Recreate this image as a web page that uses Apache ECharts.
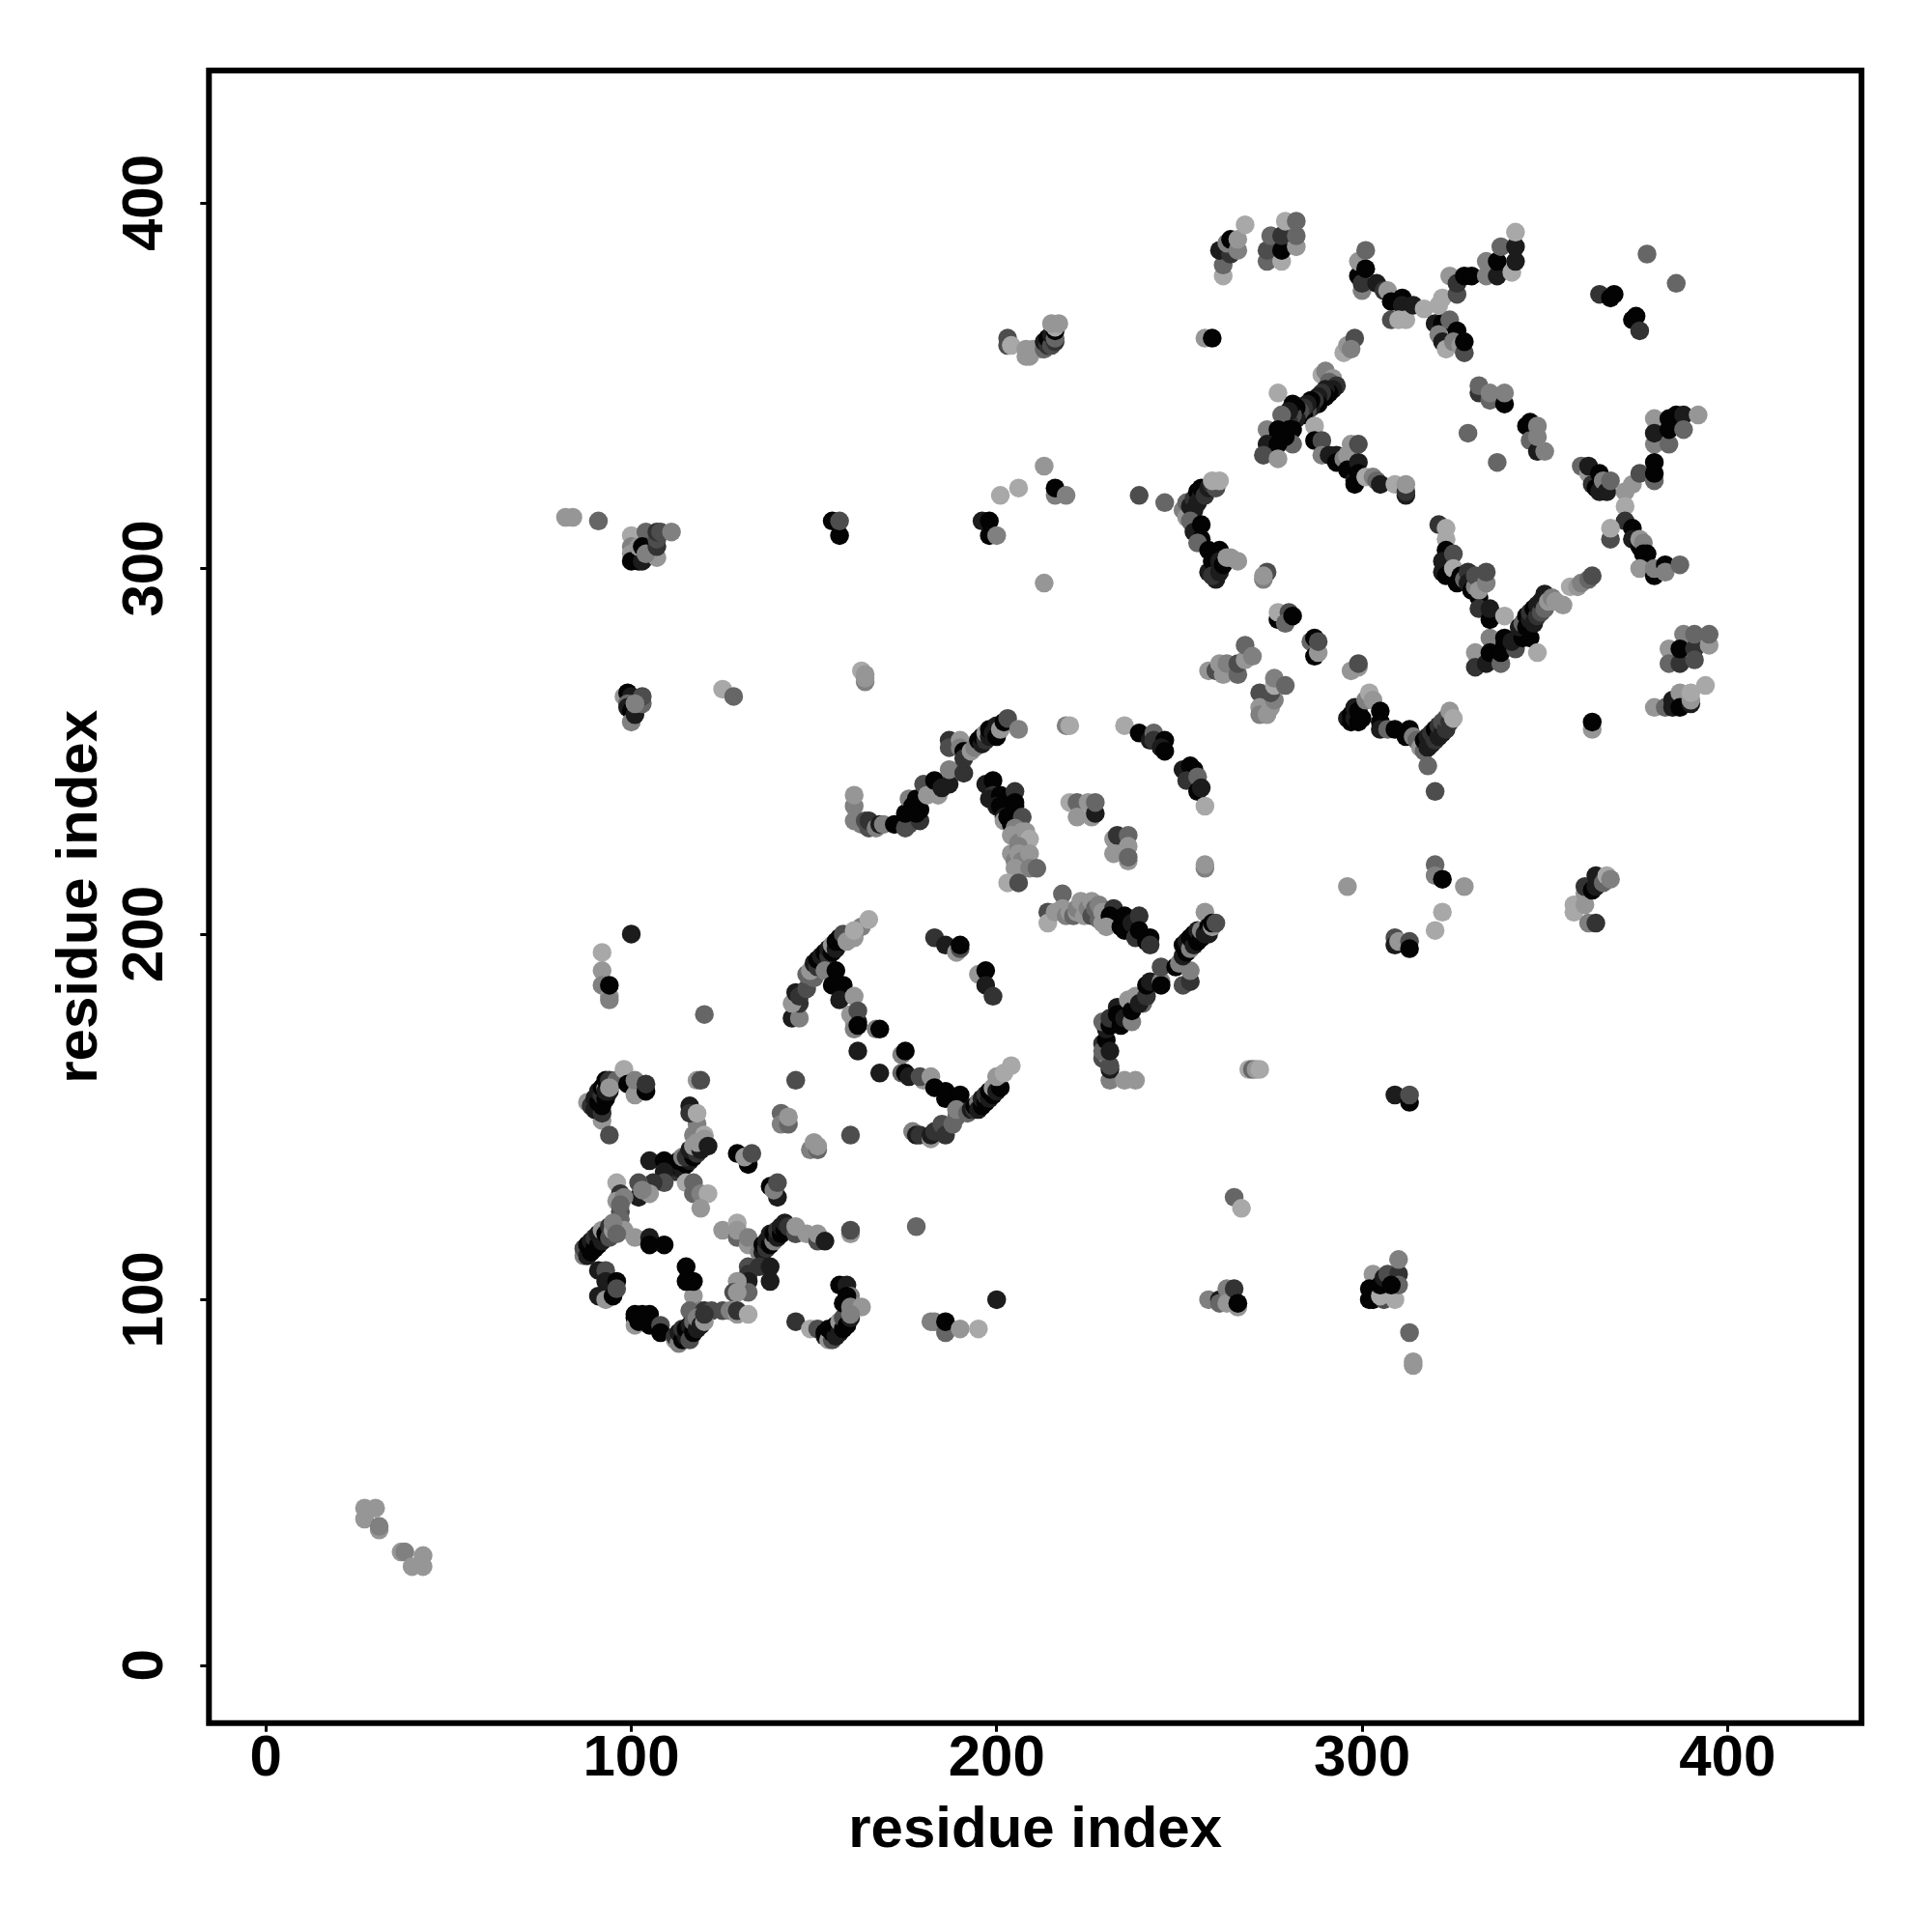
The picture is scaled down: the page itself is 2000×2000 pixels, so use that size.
<!DOCTYPE html>
<html>
<head>
<meta charset="utf-8">
<script src="https://cdn.jsdelivr.net/npm/echarts@6/dist/echarts.min.js"></script>
<style>html,body{margin:0;padding:0;background:#fff}#chart{width:2000px;height:2000px}</style>
</head>
<body>
<div id="chart"></div>
<script>
// Contact lists: [residue i, residue j, strength class 0 (strongest) .. 7 (weakest)]
const farCorner = [[27,43,6],[30,43,6],[27,40,6],[31,37,6],[31,38,5],[37,31,6],[38,31,5],[40,27,6],[43,27,6],[43,30,6]];
const leftUpper = [[92,195,7],[92,190,6],[92,186,5],[94,183,6],[94,182,5],[94,186,0],[100,200,1],[120,178,4],
[88,154,6],[92,149,6],[89,153,2],[90,152,1],[92,151,2],[90,155,1],[91,154,0],[92,153,0],[91,157,1],[92,156,2],[93,155,0],[92,158,0],[93,158,6],[93,157,1],[94,157,1],[93,160,0],[94,160,2],[96,160,4],[94,158,6],[98,163,7],[99,159,0],[101,156,6],[101,160,5],[104,157,0],[104,159,2],[94,145,3],
[118,160,6],[119,160,3],[145,160,3],[141,151,4],[141,148,5],[143,148,4],[143,150,6],[149,141,5],[150,143,6],[151,141,4],[151,142,6],[160,145,3],[178,120,4]];
const sheetLeftA = [[118,148,5],[117,145,5],[116,153,1],[116,151,2],[118,151,7],[120,145,7],[111,136,4],[112,135,2],[113,136,1],[112,137,0],[114,136,1],[113,138,0],[115,137,0],[114,139,5],[116,138,1],[115,139,2],[117,139,0],[116,141,1],[118,140,2],[117,142,6],[119,141,1],[118,143,6],[120,144,6],[121,142,1],
[105,138,1],[109,138,0],[109,135,1],[109,132,3],[106,132,2],[102,132,3],[102,128,1],[105,129,6],[103,130,5],[96,132,7],[97,129,2],[96,127,6],[98,128,5],[97,124,3],[97,122,4],[97,126,4],
[115,132,7],[117,132,4],[117,129,4],[119,129,5],[121,129,7],[119,125,6],[129,140,0],[132,137,0],[131,139,6],[133,140,3],[138,131,0],[140,128,1],[139,130,5],[140,132,3]];
const sheetLeftB = [[125,119,6],[129,121,7],[129,117,4],[129,119,6],[132,115,6],[132,117,5],[135,113,5],[136,113,1],[136,115,0],[137,114,2],[137,116,1],[138,115,0],[138,118,1],[139,116,5],[139,118,0],[140,117,1],[140,119,2],[141,118,0],[141,120,1],[142,119,0],[142,121,1],[143,120,2],[145,118,3],[145,120,6],[148,118,6],[151,116,3],[151,118,6],[153,116,1],[160,118,6],[160,119,3],
[132,109,3],[135,109,2],[138,109,1],[132,107,2],[132,105,1],[138,105,1],[132,102,4],[129,105,6],[128,102,3],[129,102,6],[117,101,6],[119,97,5],[116,97,4],[120,97,2],[122,97,3],[125,97,3],[127,97,5],[129,96,6],[129,97,2],[132,96,7],[115,109,0],[115,105,0],[117,105,0],[101,117,6],[98,119,6],[105,117,1],[105,115,0],[109,115,0]];
const sheetLeftC = [[87,112,5],[87,114,3],[88,112,1],[88,115,0],[89,113,0],[89,116,1],[90,114,0],[90,117,2],[91,115,0],[91,118,1],[92,116,1],[92,119,6],[93,118,0],[94,120,2],[94,117,3],[95,119,6],[95,121,5],[96,118,4],[91,108,1],[93,108,3],[93,105,1],[96,105,0],[93,101,1],[91,101,1],[93,100,6],[95,101,0],[96,103,3],[101,95,0],[101,93,6],[102,94,0],[101,96,0],[103,96,0],[105,96,0],[105,93,0],[108,93,3],[108,91,0],
[112,89,6],[112,90,2],[113,88,5],[113,91,1],[114,89,0],[114,92,2],[115,90,1],[115,92,0],[116,89,3],[116,93,1],[117,91,0],[117,94,4],[118,92,1],[118,95,5],[119,93,1],[120,94,6],[120,96,2],
[145,94,2],[149,92,7],[151,92,3],[153,90,1],[153,91,0],[154,89,6],[154,92,0],[155,89,3],[155,91,0],[156,90,1],[156,93,0],[157,91,1],[157,94,6],[158,92,0],[158,95,3],[159,93,0],[160,95,1],[157,104,0],[159,104,1],[158,99,0],[160,101,5],[159,101,0],[160,98,5],[163,98,6],[160,96,5],[182,94,5],[183,94,5],[186,91,4],[186,94,0],[190,92,6],[195,92,7],[200,100,1]];
const arcMiddle = [[144,177,1],[146,177,5],[146,181,2],[144,181,6],[145,184,1],[146,183,2],[148,185,3],[148,189,4],[150,188,4],[149,190,6],[150,192,1],[151,191,2],[151,193,0],[152,194,1],[153,193,1],[153,195,0],[154,194,2],[154,196,1],[155,195,0],[155,197,6],[156,196,1],[156,198,0],[157,199,0],[158,198,0],[158,200,3],[159,198,6],[161,199,6],[163,202,5],[161,201,7],[165,204,7],
[153,190,5],[156,190,0],[155,186,0],[158,186,0],[157,182,1],[161,183,6],[160,178,6],[162,176,1],[161,176,6],[162,179,3],[161,174,5],[162,175,0],[167,174,5],[168,174,0],[162,168,1],[168,162,1],[174,167,5],[175,168,0],[174,162,4],[175,162,0],[176,161,1],[180,160,6],[179,161,3],[182,161,6],[183,158,0],[186,157,0],[186,155,0],[190,156,0],
[177,146,5],[178,145,1],[179,145,2],[182,144,6],[182,145,1],[183,146,2],[185,148,3],[186,145,2],[188,148,4],[189,150,4],[189,152,5],[192,151,4],[193,152,1],[194,152,2],[194,153,0],[195,154,5],[195,152,1],[196,153,0],[196,155,1],[197,154,0],[197,156,2],[198,155,1],[198,157,0],[199,156,0],[199,158,6],[200,157,1],[201,158,0],[200,161,6],[202,162,7],[204,164,7],
[195,189,6],[197,190,0],[197,186,1],[199,183,2],[183,199,2],[186,197,1],[189,195,6],[190,196,3],[190,197,0]];
const upperLeft = [[82,314,6],[84,314,6],[91,313,4],[100,309,7],[100,306,5],[100,304,6],[100,302,0],[102,302,0],[103,302,1],[107,303,6],[102,306,6],[104,310,4],[103,306,0],[104,304,5],[107,306,2],[107,308,3],[107,310,2],[108,310,3],[111,310,5],[155,313,0],[157,309,0],[157,313,3],[196,313,1],[198,313,0],[198,309,0],[200,309,5],[201,320,7],[206,322,7],[213,328,6],[213,296,6],[216,320,5],[216,322,0],[219,320,5],[239,320,3],[246,318,4],
[98,265,6],[99,266,0],[100,265,1],[99,263,4],[99,262,1],[100,261,0],[100,258,5],[101,260,1],[103,263,4],[103,265,3],[101,263,5],[125,267,7],[128,265,4],[163,272,7],[164,269,5],[164,270,6],[164,271,6],
[203,363,3],[203,361,3],[204,361,7],[208,358,6],[208,360,6],[209,358,6],[210,360,6],[212,360,6],[213,360,4],[213,362,1],[214,361,2],[214,363,0],[215,361,3],[215,364,1],[216,362,2],[216,363,4],[216,365,0],[216,366,7],[215,367,6],[217,367,6],[257,363,6],[259,363,0]];
const helixStart = [[251,316,5],[252,318,4],[252,314,6],[253,317,1],[254,319,2],[254,316,1],[255,321,0],[256,320,1],[255,318,1],[256,322,0],[257,320,2],[258,322,1],[259,323,2],[260,322,3],[259,324,7],[261,324,7],[253,313,4],[254,311,4],[254,310,1],[256,312,0],[256,308,0],[255,307,4],[258,305,0],[261,305,0],[258,299,1],[259,302,0],[260,300,0],[260,297,1],[259,298,2],[261,299,1],[261,302,1],[262,301,0],[263,303,6],[264,303,6],[266,302,6]];
const centreRise = [[161,231,5],[161,235,5],[161,238,6],[163,230,5],[164,231,3],[165,229,3],[165,231,2],[167,229,5],[168,230,1],[169,230,5],[172,230,0],[176,230,3],[175,229,3],[179,231,2],[175,233,0],[176,237,5],[177,235,0],[179,234,0],[178,237,0],[178,233,0],[180,241,3],[181,238,6],[184,238,6],[183,242,0],[185,240,1],[187,241,1],[187,245,5],[191,244,2],[187,253,2],[187,251,3],[190,253,6],[190,251,5],[191,250,0],[191,248,2],[193,250,6],[194,251,5],[195,253,0],[196,252,1],[196,254,0],[197,253,2],[197,255,6],[198,254,1],[198,256,0],[199,255,1],[200,257,1],[200,254,0],[201,256,6],[202,258,0],[203,259,3],[206,256,5],
[219,257,5],[220,257,7],[235,257,7],[239,255,0],[242,253,1],[243,255,4],[243,253,2],[246,253,0],[245,251,1],[246,250,0],[251,245,1],[253,246,0],[254,245,0],[252,242,2],[255,243,4],[255,239,0],[256,240,1],[257,235,7]];
const centreFall = [[197,241,1],[199,242,0],[199,238,2],[198,237,1],[201,238,0],[200,235,1],[201,235,0],[202,232,1],[205,239,2],[205,236,0],[205,235,0],[202,231,6],[203,232,0],[204,230,0],[207,232,3],[205,229,5],[204,227,6],[207,228,6],[206,225,5],[208,228,6],[209,226,7],[204,222,6],[206,224,5],[205,220,5],[206,222,6],[207,220,5],[209,222,6],[205,218,6],[209,218,5],[211,218,4],[203,214,7],[206,214,3],
[220,236,7],[222,236,4],[225,236,6],[222,232,6],[226,232,6],[227,233,1],[227,236,4],[232,226,6],[233,227,2],[236,227,4],[236,224,6],[232,222,6],[236,220,6],[236,221,4],[257,218,5],[257,219,6]];
const centreLower = [[214,206,3],[214,203,7],[218,211,4],[216,206,6],[218,207,6],[219,205,5],[220,206,6],[221,205,4],[222,206,6],[222,207,5],[223,209,6],[224,205,6],[225,207,5],[226,209,6],[226,205,3],[227,207,4],[228,208,5],[228,204,4],[229,206,6],[229,203,6],[232,207,2],[231,205,0],[231,203,0],[230,202,6],[234,202,0],[235,205,0],[235,201,0],[237,203,1],[239,205,2],[238,199,2],[239,201,0],[241,198,0],[242,199,0],[242,197,2],
[229,166,3],[230,167,5],[231,160,5],[231,163,1],[231,164,3],[235,160,6],[238,160,6],[229,170,2],[229,168,4],[230,171,0],[231,168,1],[230,174,1],[229,176,4],[231,175,0],[231,177,2],[233,180,1],[234,175,0],[233,178,0],[235,177,1],[236,182,6],[237,176,5],[237,179,0],[238,183,6],[240,181,4],[239,181,1],[241,183,2],[241,186,0],[242,187,1],[245,187,5],[245,186,0],[245,191,3],[249,191,0],[251,186,3],[253,187,2],[253,190,5],[250,192,5],[251,194,1],[251,197,0],[252,195,0],[252,198,1],[253,196,5],[253,199,0],[254,197,1],[254,200,0],[255,198,0],[255,201,1],[256,199,0],[256,201,5],[257,200,1],[257,206,6],[258,202,0],[258,200,1],[259,202,6],[259,203,0],[260,203,3]];
const lowerRight = [[269,163,7],[270,163,4],[271,163,6],[272,163,7],[309,156,1],[313,154,0],[313,156,3],[265,128,4],[267,125,7],[258,100,5],[261,100,1],[261,99,4],[263,103,5],[263,99,6],[266,99,6],[265,103,2],[266,98,6],[266,99,0],[303,107,6],[302,103,0],[302,100,0],[303,100,0],[306,100,3],[305,101,7],[309,100,7],[305,104,0],[306,106,1],[307,107,3],[310,107,2],[310,104,4],[310,111,5],[308,104,0],[313,91,4],[314,82,6],[314,83,6],
[296,213,6],[320,219,4],[320,216,5],[322,215,0],[328,213,6],[322,206,7],[320,201,7],[309,199,3],[309,197,1],[310,198,6],[313,198,3],[313,196,0],[358,208,7],[358,206,7],[361,208,6],[361,211,6],[361,213,2],[363,212,0],[364,213,1],[364,216,1],[366,214,4],[367,216,7],[368,215,5],[362,203,5],[364,203,2]];
const rightMiddle = [[274,299,3],[273,297,5],[273,298,6],[277,286,0],[277,288,7],[280,288,3],[279,285,4],[281,287,0],[286,280,4],[287,281,0],[287,276,0],[288,277,6],[288,280,3],[297,272,6],[299,273,6],[299,274,3],
[258,272,6],[260,272,3],[261,274,6],[262,271,6],[263,274,5],[266,271,4],[266,274,3],[268,275,6],[268,279,4],[270,276,5],[272,266,3],[272,262,6],[272,260,5],[274,260,6],[275,262,6],[276,264,5],[275,266,3],[276,268,7],[276,270,5],[279,268,4],
[296,259,1],[297,258,0],[297,260,0],[298,259,1],[298,262,1],[299,258,0],[299,261,0],[300,259,0],[301,264,5],[302,266,7],[303,264,6],[305,261,0],[305,258,0],[305,256,1],[307,256,4],[309,256,0],[313,256,0],[312,254,0],[314,254,5],[315,253,4],[316,251,6],[317,250,4],[317,253,0],[318,251,1],[318,254,1],[319,252,1],[319,255,2],[320,253,2],[320,256,0],[321,254,1],[321,257,2],[322,255,1],[322,258,3],[323,256,2],[323,259,3],[324,258,2],[324,261,6],[325,259,7],[318,246,4],[320,239,3],
[363,256,6],[363,258,0],[380,262,6],[383,262,4],[385,264,1],[385,262,1],[387,266,6],[387,262,0],[390,263,1],[390,264,6],[390,266,7],[394,268,7],[384,278,6],[384,274,4],[387,274,2],[388,282,5],[387,278,0],[391,278,2],[391,275,3],[391,282,4],[395,279,6],[395,282,4]];
const centreVee = [[331,277,6],[331,273,2],[334,274,1],[335,281,5],[335,277,0],[338,274,4],[338,277,0],[339,281,0],[339,279,0],[342,278,3],[341,280,1],[344,281,0],[346,281,0],[348,277,7],[343,284,1],[344,285,4],[345,284,0],[345,287,0],[346,286,1],[346,288,2],[347,285,1],[347,289,0],[348,287,2],[348,290,1],[349,288,3],[349,291,1],[350,289,4],[350,293,1],[351,291,6],[352,292,5],[353,291,6],[355,290,6],[357,295,7],[359,295,6],[360,296,5],[362,297,4],[363,298,3],
[321,312,2],[323,311,7],[323,308,7],[323,305,0],[322,302,1],[325,304,3],[322,299,1],[323,298,0],[325,300,7],[327,298,0],[326,296,0],[328,297,4],[329,299,2],[329,296,1],[330,294,0],[331,295,5],[331,298,3],[332,292,0],[332,294,6],[334,296,5],[334,299,3],[332,289,2],[335,286,0],[335,289,1],[339,287,7]];
const topRow = [[262,380,7],[262,383,4],[261,387,1],[264,386,2],[263,389,5],[264,390,0],[266,387,5],[266,390,6],[268,394,7],[274,384,4],[274,387,3],[275,391,4],[278,384,7],[278,387,0],[278,391,2],[279,395,7],[282,388,6],[282,391,4],[282,395,4],
[300,376,5],[299,380,0],[300,378,2],[299,384,6],[301,382,0],[301,387,4],[304,378,1],[306,376,2],[307,376,6],[308,373,0],[308,368,3],[311,374,0],[311,372,1],[312,368,7],[310,368,7],[314,372,1],[317,371,7],[321,372,7],[322,374,7],[324,380,6],[326,375,3],[326,378,2],[328,380,0],[330,380,0],[334,380,5],[334,384,5],[337,380,1],[337,384,0],[338,388,4],[341,381,7],[342,384,1],[342,388,1],[342,392,7],
[320,367,1],[322,367,0],[324,368,4],[321,364,5],[322,362,1],[323,360,7],[326,365,0],[325,362,5],[327,361,6],[328,359,3],[328,362,0],[378,386,4],[386,378,4],[365,375,2],[368,374,0],[369,375,0],[374,368,0],[375,369,0],[376,365,2]];
const upperChains = [[295,359,7],[296,361,6],[298,363,3],[297,360,5],[289,353,7],[290,354,5],[292,352,6],[291,351,4],[293,350,2],[292,349,1],[291,348,0],[290,349,1],[290,347,0],[289,348,2],[288,347,1],[288,345,0],[287,346,2],[286,344,1],[286,346,0],[285,343,3],[285,345,1],[284,342,0],[284,344,2],[283,343,3],[282,341,1],[282,344,0],[281,342,3],[281,345,0],[280,340,2],[280,343,1],[277,348,7],[278,342,4],[280,338,0],[281,338,0],[281,334,4],[274,338,5],[277,338,0],[277,336,0],[279,336,0],[274,334,1],[277,334,0],[273,331,3],[277,330,6],
[287,339,7],[287,335,0],[289,335,3],[289,331,5],[291,331,1],[293,331,1],[293,329,0],[295,330,5],[296,331,6],[296,327,0],[297,334,6],[299,334,3],[299,329,1],[298,324,1],[299,326,0],[298,323,0],[301,325,7],[303,325,5],[304,324,4],[305,323,1],[309,323,7],[312,320,1],[312,321,2],[312,323,6],
[332,348,2],[332,350,4],[335,346,4],[335,348,5],[339,345,0],[339,348,5],[329,337,4],[337,329,4],[345,339,0],[346,340,0],[346,335,4],[348,339,5],[348,332,1],[348,336,5],[350,332,5]];
const rightCross = [[380,341,6],[384,341,0],[386,342,0],[388,342,1],[392,342,6],[380,334,5],[380,337,1],[384,334,4],[384,338,0],[388,338,4],[360,328,4],[362,326,6],[362,328,1],[363,323,2],[364,322,0],[365,321,1],[365,326,0],[366,324,5],[367,321,1],[368,324,4],[372,321,6],[374,323,6],[376,326,3],[380,324,4],[380,326,0],[380,329,0],[372,317,7],[372,313,2],[368,308,3],[368,311,7],[374,311,0],[374,308,1],[376,306,0],[376,308,6],[377,307,5],[377,304,0],[378,304,0],[376,300,6],[380,298,0],[380,300,5],[383,301,0],[383,299,5],[387,301,4]];

const xTickValues = [0, 100, 200, 300, 400];
const yTickValues = [0, 100, 200, 300, 400];
const xAxisTitle = 'residue index';
const yAxisTitle = 'residue index';
const strengthGreys = ['#030303', '#1c1c1c', '#333333', '#4d4d4d', '#666666', '#808080', '#969696', '#a8a8a8'];

const contacts = [].concat(farCorner, leftUpper, sheetLeftA, sheetLeftB, sheetLeftC, arcMiddle, upperLeft,
  helixStart, centreRise, centreFall, centreLower, lowerRight, rightMiddle, centreVee, topRow, upperChains, rightCross);

const FONT = '"Liberation Sans", Arial, Helvetica, sans-serif';
function axisStyle(values, title, rotate, nameGap, labelMargin) {
  return {
    type: 'value',
    name: title,
    nameLocation: 'middle',
    nameGap: nameGap,
    nameRotate: rotate,
    nameTextStyle: { fontFamily: FONT, fontWeight: 'bold', fontSize: 60, color: '#000' },
    splitLine: { show: false },
    axisLine: { show: false, onZero: false },
    axisTick: { show: true, inside: false, length: 9, customValues: values, lineStyle: { color: '#000', width: 3 } },
    axisLabel: { show: true, customValues: values, rotate: rotate, margin: labelMargin, fontFamily: FONT, fontWeight: 'bold', fontSize: 60, color: '#000' }
  };
}
const chart = echarts.init(document.getElementById('chart'), null, { renderer: 'canvas' });
chart.setOption({
  animation: false,
  backgroundColor: '#ffffff',
  grid: { show: true, left: 216.3, right: 73, top: 73, bottom: 216.3, borderColor: '#000', borderWidth: 6, backgroundColor: 'transparent', containLabel: false },
  xAxis: Object.assign(axisStyle(xTickValues, xAxisTitle, 0, 82, 8), { min: -15.6, max: 436.7 }),
  yAxis: Object.assign(axisStyle(yTickValues, yAxisTitle, 90, 94, 35), { min: -15.8, max: 436.2 }),
  series: [{
    type: 'scatter',
    data: contacts,
    symbol: 'circle',
    symbolSize: 19.5,
    silent: true,
    itemStyle: { opacity: 1, borderWidth: 0, color: function (p) { return strengthGreys[p.data[2]]; } }
  }]
});
</script>
</body>
</html>
